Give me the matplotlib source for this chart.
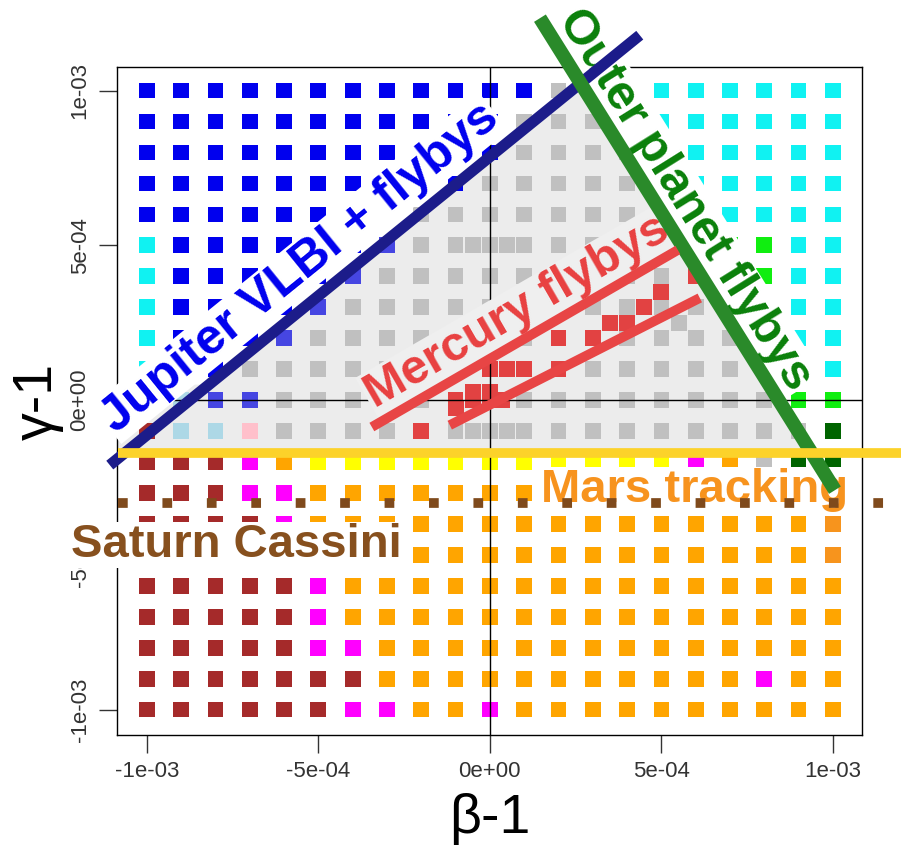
import numpy as np
import matplotlib.pyplot as plt
from matplotlib.patches import Polygon

# grid of (beta-1, gamma-1) test points
beta_vals = np.linspace(-1e-3, 1e-3, 21)
gamma_vals = np.linspace(1e-3, -1e-3, 21)   # top row first

# colour code of every grid point, one string per row (top to bottom)
grid_rows = [
    "BBBBBBBBBBBBGGCCCCCCC",
    "BBBBBBBBBBBGGGNCCCCCC",
    "BBBBBBBBBBBGGGGCCCCCC",
    "BBBBBBBBBBGGGGGCCCCCC",
    "BBBBBBBBGGGGGGGGCCCCC",
    "CBBBBBBbGGGGGGGGGNNCC",
    "CBBBBBbGGGGGGGGGRNNCC",
    "CBBBBbGGGGGGGGGGGNNCC",
    "CBBBbGGGGGGGRRGGGGNCC",
    "CBBGGGGGGGRRRGGGGGNCC",
    "LLbbGGGGGRRGGGGGGGGNN",
    "WLLPGGGGRGGGGGGGGGGGD",
    "WWWMOYYYYYYYYYYYMOGDD",
    "WWWMMOOOOOOOOOOOOOOOO",
    "WWWWMOOOOOOOOOOOOOOOo",
    "WWWWWMOOOOOOOOOOOOOOo",
    "WWWWWMOOOOOOOOOOOOOOO",
    "WWWWWMOOOOOOOOOOOOOOO",
    "WWWWWMMOOOOOOOOOOOOOO",
    "WWWWWWWOOOOOOOOOOOMOO",
    "WWWWWWMMOOMOOOOOOOOOO",
]
palette = {
    "B": "#0000ee", "b": "#4646e2", "C": "#10f2f2", "G": "#c0c0c0",
    "N": "#10ee10", "D": "#006400", "R": "#e24242", "W": "#a52a2a",
    "M": "#ff00ff", "O": "#ffa500", "o": "#f7941d", "Y": "#ffff00",
    "L": "#add8e6", "P": "#ffc0cb",
}

# extra off-grid points
red_x = [5.0e-4, 4.5e-4, 4.0e-4, 3.5e-4, 0.5e-4, -1e-4, -0.5e-4, 0.0, 0.35e-4, -0.5e-4]
red_y = [3.5e-4, 3.0e-4, 2.5e-4, 2.5e-4, 1e-4, -0.25e-4, 0.25e-4, 0.25e-4, 0.0, 0.0]
gray_x = [-0.5e-4, 0.5e-4, 5.5e-4, -0.5e-4, 0.5e-4]
gray_y = [5e-4, 5e-4, 2.5e-4, -1e-4, -1e-4]

# constraint lines
jupiter_x, jupiter_y = [-11.08e-4, 4.37e-4], [-2.10e-4, 11.79e-4]
outer_x, outer_y = [1.46e-4, 10.06e-4], [12.34e-4, -2.91e-4]
merc_hi_x, merc_hi_y = [-3.44e-4, 5.48e-4], [-0.87e-4, 4.85e-4]
merc_lo_x, merc_lo_y = [-1.17e-4, 6.12e-4], [-0.81e-4, 3.30e-4]
mars_x, mars_y = [-10.85e-4, 12.0e-4], -1.71e-4
saturn_x, saturn_y = [-10.85e-4, 12.1e-4], -3.33e-4

# allowed region (light gray)
region = [(-10.87e-4, -1.75e-4), (-10.87e-4, 0.5e-4), (-8.19e-4, 0.5e-4),
          (2.645e-4, 10.24e-4), (9.41e-4, -1.75e-4)]

tick_vals = [-1e-3, -5e-4, 0, 5e-4, 1e-3]
tick_labels = ["-1e-03", "-5e-04", "0e+00", "5e-04", "1e-03"]

fig = plt.figure(figsize=(9.02, 8.49), dpi=100)
ax = fig.add_axes([0.1297, 0.1343, 0.8260, 0.7867])
ax.set_xlim(-1.087e-3, 1.085e-3)
ax.set_ylim(-1.082e-3, 1.076e-3)

ax.add_patch(Polygon(region, closed=True, facecolor="#ececec", edgecolor="none", zorder=0))

bx, gy = np.meshgrid(beta_vals, gamma_vals)
cols = [palette[c] for row in grid_rows for c in row]
ax.scatter(bx.ravel(), gy.ravel(), s=128, marker="s", c=cols, linewidths=0, zorder=1)
ax.scatter(gray_x, gray_y, s=128, marker="s", c=palette["G"], linewidths=0, zorder=1)
ax.scatter(red_x, red_y, s=128, marker="s", c=palette["R"], linewidths=0, zorder=1.1)

ax.axhline(0, color="black", lw=1, zorder=2)
ax.axvline(0, color="black", lw=1, zorder=2)

bold = dict(family=["Liberation Sans", "DejaVu Sans"], fontweight="bold",
            ha="center", va="center", rotation_mode="anchor")
ax.text(-5.54e-4, 4.27e-4, "Jupiter VLBI + flybys", color="#0000ee", fontsize=36, rotation=39,
        bbox=dict(facecolor="white", edgecolor="none", pad=1), zorder=3, **bold)
ax.text(5.69e-4, 6.46e-4, "Outer planet flybys", color="#0a800a", fontsize=35, rotation=-58,
        bbox=dict(facecolor="white", edgecolor="none", pad=1), zorder=3, **bold)
ax.text(0.79e-4, 2.84e-4, "Mercury flybys", color="#e84040", fontsize=35, rotation=30,
        bbox=dict(facecolor="#efefef", edgecolor="none", pad=1), zorder=3, **bold)
ax.text(5.98e-4, -2.91e-4, "Mars tracking", color="#f7931e", fontsize=34,
        bbox=dict(facecolor="white", edgecolor="none", pad=1), zorder=3, **bold)
ax.text(-7.38e-4, -4.68e-4, "Saturn Cassini", color="#87501e", fontsize=34,
        bbox=dict(facecolor="white", edgecolor="none", pad=1), zorder=3, **bold)

ax.plot(jupiter_x, jupiter_y, color="#1c1c8a", lw=8, solid_capstyle="butt", clip_on=False, zorder=4)
ax.plot(outer_x, outer_y, color="#2a8a2a", lw=10, solid_capstyle="butt", clip_on=False, zorder=4)
ax.plot(merc_hi_x, merc_hi_y, color="#e84545", lw=7, solid_capstyle="butt", zorder=4)
ax.plot(merc_lo_x, merc_lo_y, color="#e84545", lw=7, solid_capstyle="butt", zorder=4)
ax.plot(mars_x, [mars_y, mars_y], color="#fcd22a", lw=7, solid_capstyle="butt", clip_on=False, zorder=5)
ax.plot(saturn_x, [saturn_y, saturn_y], color="#7f4a1c", lw=7, linestyle=(0, (1, 3.57)),
        dash_capstyle="butt", clip_on=False, zorder=4)

ax.set_xticks(tick_vals)
ax.set_xticklabels(tick_labels)
ax.set_yticks(tick_vals)
ax.set_yticklabels(tick_labels, rotation=90, va="center")
ax.tick_params(length=13, width=1, color="#333333", labelcolor="#333333", labelsize=16, pad=6)
for lab in ax.get_xticklabels() + ax.get_yticklabels():
    lab.set_family(["Liberation Sans", "DejaVu Sans"])
for sp in ax.spines.values():
    sp.set_linewidth(1)

narrow = ["Liberation Sans Narrow", "Liberation Sans", "DejaVu Sans"]
ax.set_xlabel("β-1", fontsize=40, family=narrow, labelpad=8)
ax.set_ylabel("γ-1", fontsize=40, family=narrow, labelpad=4)

fig.savefig("out.png", dpi=100)
